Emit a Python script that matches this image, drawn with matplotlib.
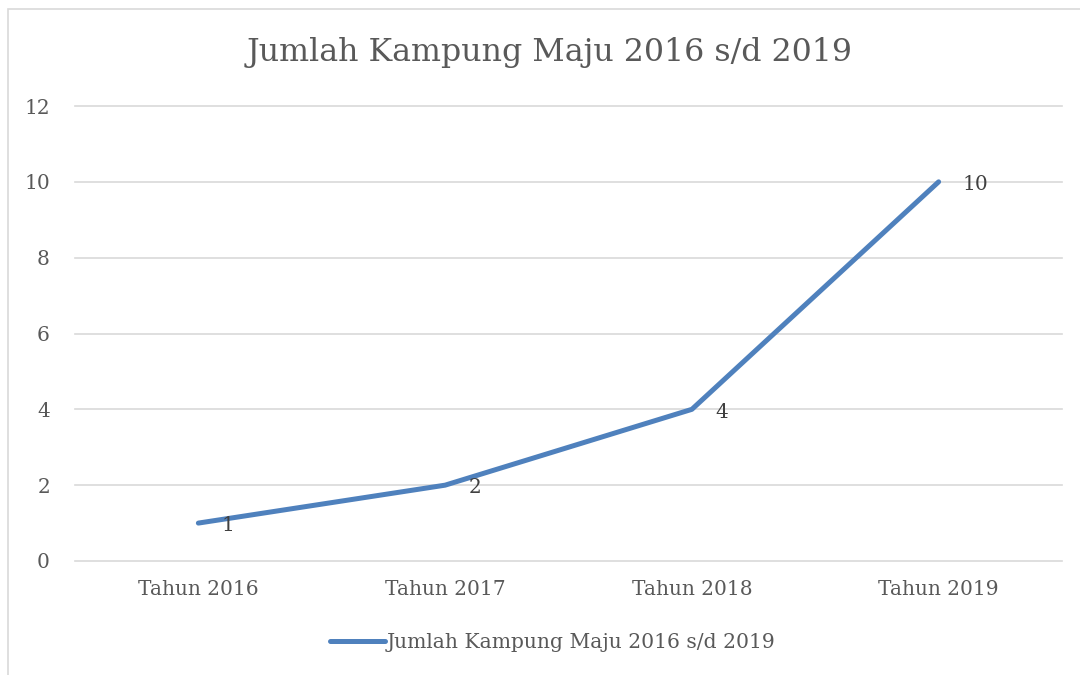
import matplotlib
matplotlib.use("Agg")
import matplotlib.pyplot as plt
from matplotlib.patches import Rectangle

categories = ["Tahun 2016", "Tahun 2017", "Tahun 2018", "Tahun 2019"]
values = [1, 2, 4, 10]
series_name = "Jumlah Kampung Maju 2016 s/d 2019"
title = "Jumlah Kampung Maju 2016 s/d 2019"

LINE = "#4F81BD"
TEXT = "#595959"
GRID = "#D9D9D9"

plt.rcParams["font.family"] = ["DejaVu Serif"]

fig = plt.figure(figsize=(10.8, 6.75), dpi=100)
fig.patches.append(Rectangle((8 / 1080, -0.01), 1.1, 1 - 9 / 675 + 0.01,
                             transform=fig.transFigure, fill=False,
                             edgecolor=GRID, linewidth=1.2))

ax = fig.add_axes([75 / 1080, 1 - 561 / 675, (1062 - 75) / 1080, (561 - 106) / 675])
x = list(range(len(categories)))
ax.plot(x, values, color=LINE, linewidth=3.6, solid_capstyle="round",
        solid_joinstyle="round", label=series_name)

for xi, v in zip(x, values):
    ax.annotate(str(v), (xi, v), xytext=(17, -2), textcoords="offset points",
                ha="left", va="center", fontsize=14.5, color="#404040")

ax.set_xlim(-0.5, len(categories) - 0.5)
ax.set_ylim(0, 12)
ax.set_yticks(range(0, 13, 2))
ax.set_xticks(x)
ax.set_xticklabels(categories)
ax.grid(axis="y", color=GRID, linewidth=1.2)
for gl in ax.get_ygridlines():
    gl.set_clip_on(False)
ax.set_axisbelow(True)
for s in ax.spines.values():
    s.set_visible(False)
ax.tick_params(length=0, labelsize=14.5, colors=TEXT, pad=14)
ax.tick_params(axis="y", pad=18)

fig.text(550 / 1080, 1 - 52 / 675, title, ha="center", va="center", fontsize=22.8, color=TEXT)

leg = fig.legend(loc="center", bbox_to_anchor=(553 / 1080, 1 - 643 / 675), frameon=False,
                 fontsize=14.6, handlelength=2.7, handletextpad=0.1, labelcolor=TEXT)

fig.savefig("out.png", dpi=100)
